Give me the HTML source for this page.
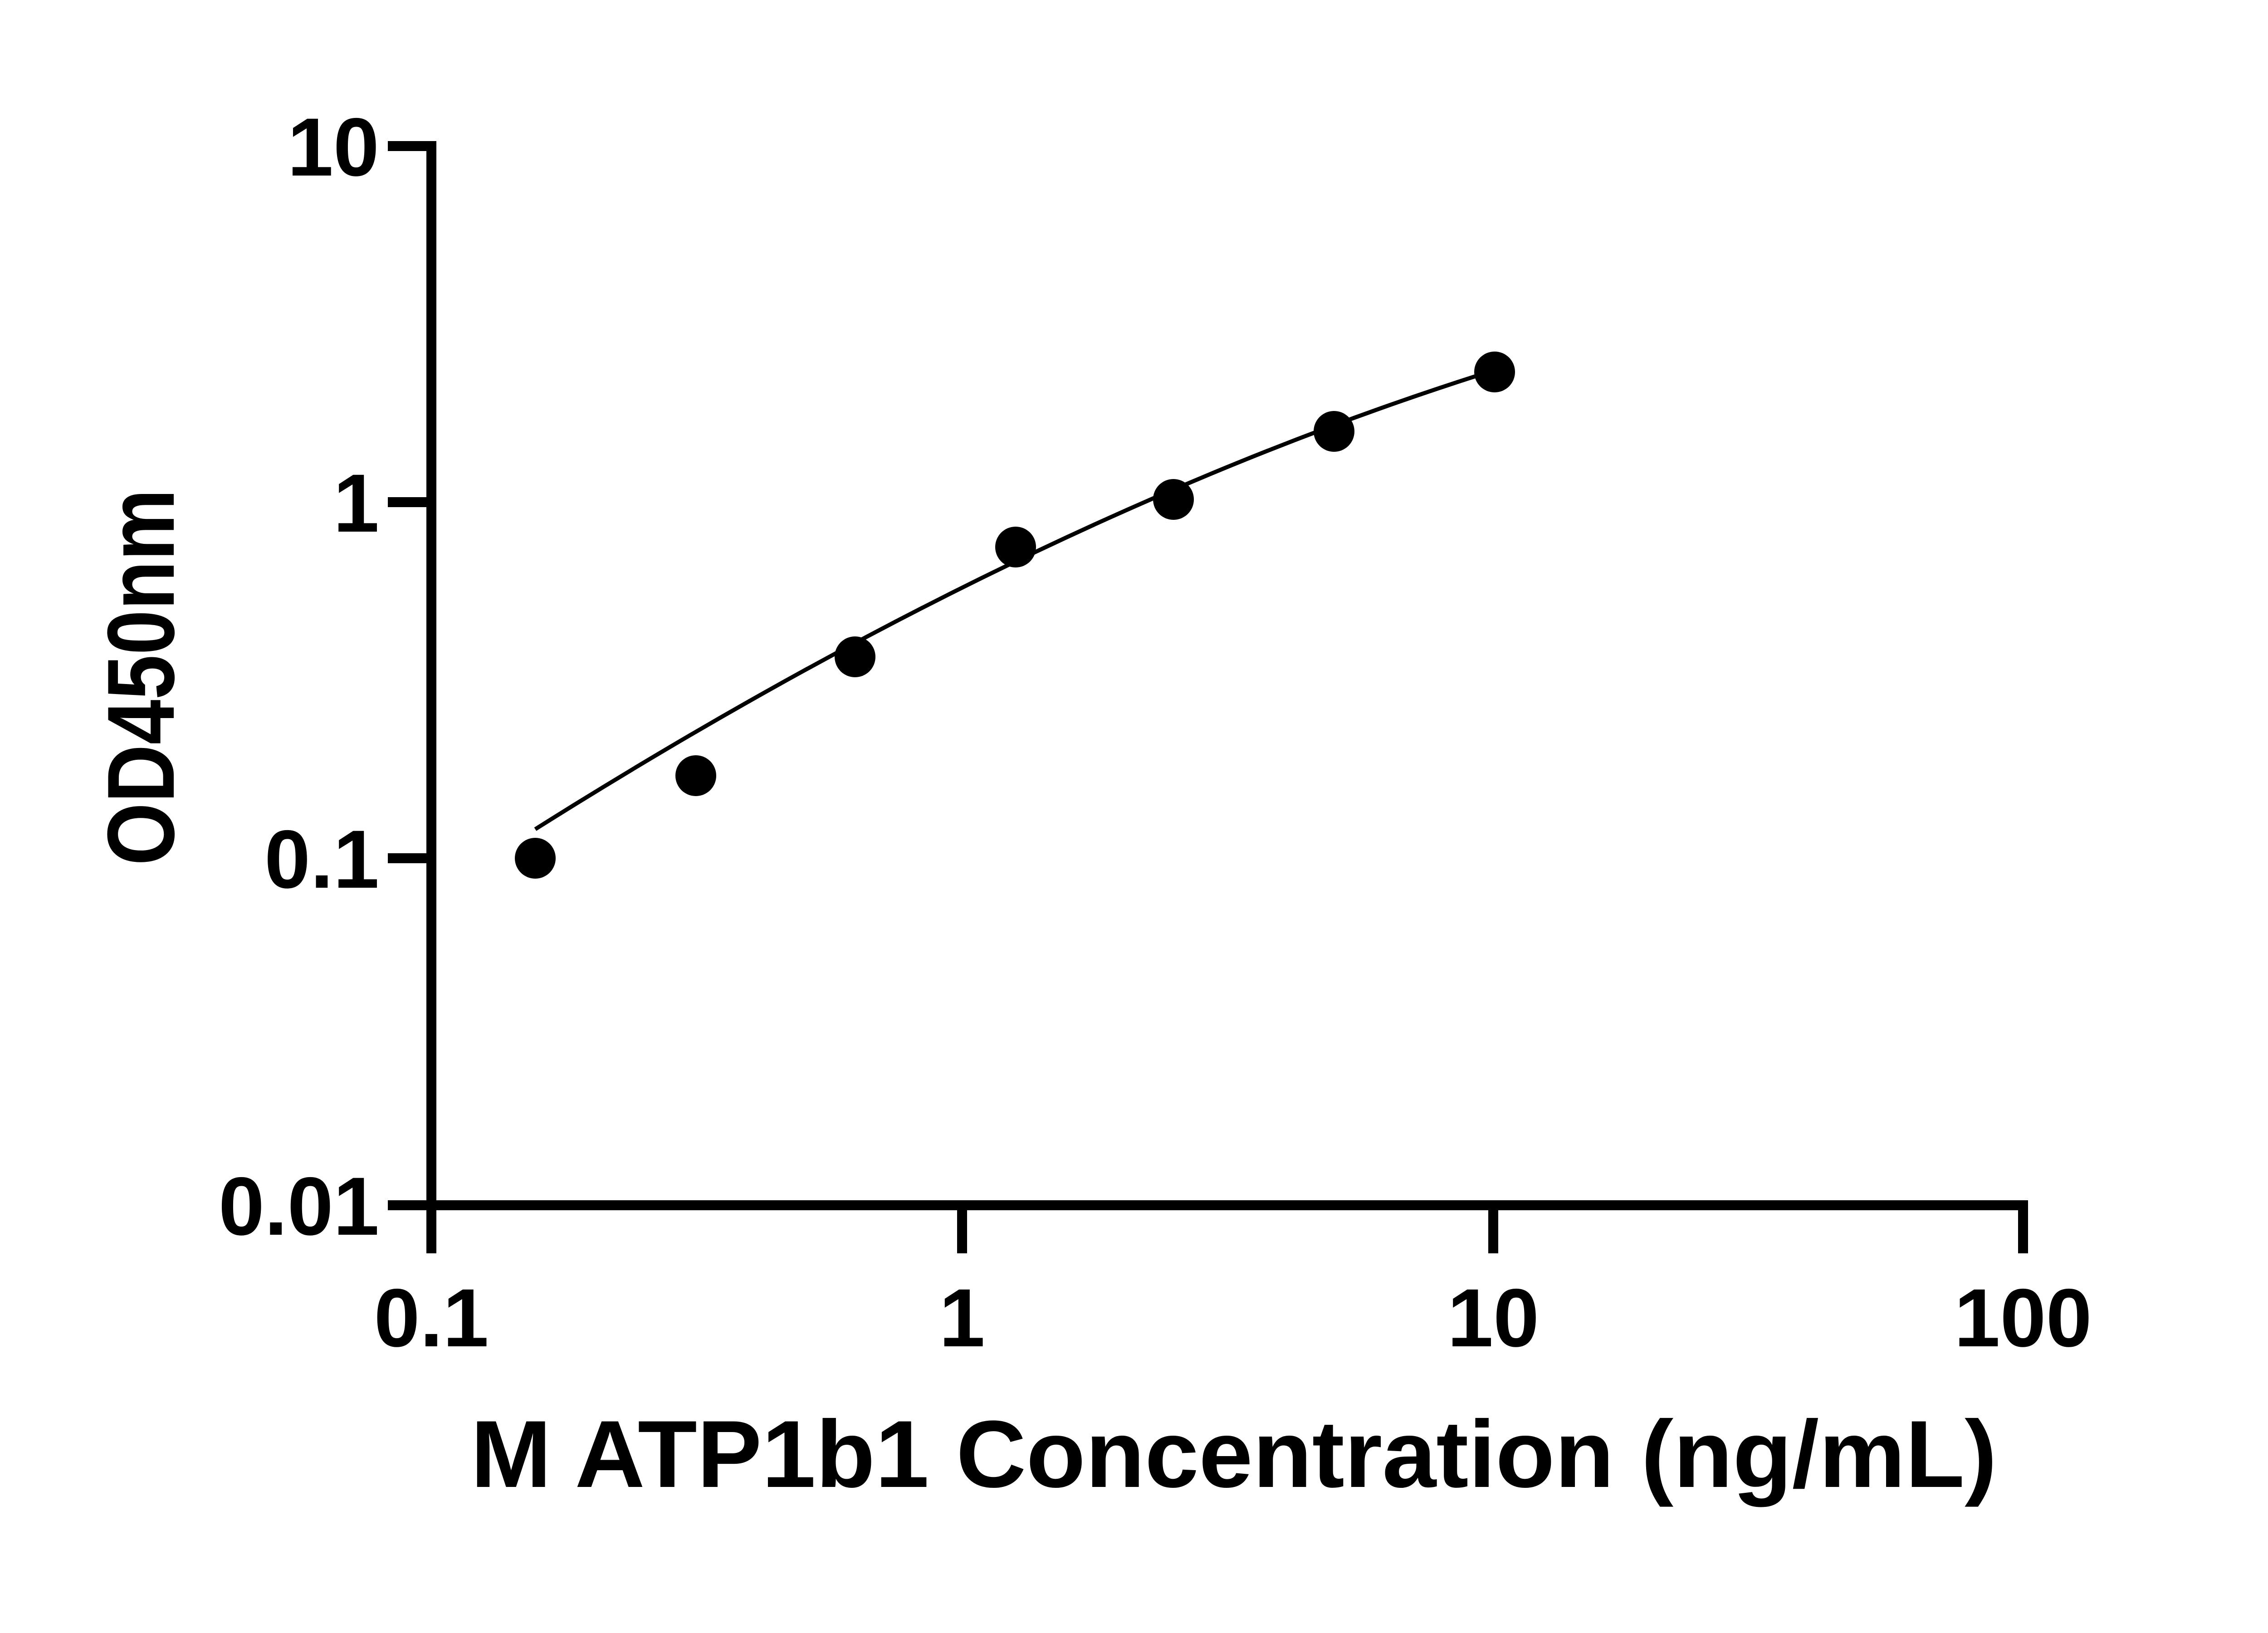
<!DOCTYPE html>
<html><head><meta charset="utf-8"><style>html,body{margin:0;padding:0;background:#fff}svg{display:block}</style></head>
<body>
<svg width="5130" height="3600" viewBox="0 0 5130 3600" xmlns="http://www.w3.org/2000/svg">
<rect width="5130" height="3600" fill="#fff"/>
<g stroke="#000" stroke-width="22" fill="none" stroke-linecap="butt">
<line x1="951" y1="311" x2="951" y2="2763"/>
<line x1="940" y1="2657" x2="4471" y2="2657"/>
<line x1="855" y1="322" x2="962" y2="322"/>
<line x1="855" y1="1107" x2="951" y2="1107"/>
<line x1="855" y1="1892" x2="951" y2="1892"/>
<line x1="855" y1="2657" x2="951" y2="2657"/>
<line x1="2121" y1="2657" x2="2121" y2="2763"/>
<line x1="3292" y1="2657" x2="3292" y2="2763"/>
<line x1="4460" y1="2646" x2="4460" y2="2763"/>
</g>
<g font-family="Liberation Sans, Arial, sans-serif" font-weight="bold" font-size="182" fill="#000">
<text x="836" y="387" text-anchor="end">10</text>
<text x="836" y="1172" text-anchor="end">1</text>
<text x="836" y="1957" text-anchor="end">0.1</text>
<text x="836" y="2722" text-anchor="end">0.01</text>
<text x="951" y="2968" text-anchor="middle">0.1</text>
<text x="2121" y="2968" text-anchor="middle">1</text>
<text x="3292" y="2968" text-anchor="middle">10</text>
<text x="4460" y="2968" text-anchor="middle">100</text>
</g>
<text x="2720" y="3278" text-anchor="middle" font-family="Liberation Sans, Arial, sans-serif" font-weight="bold" font-size="210" textLength="3365" lengthAdjust="spacingAndGlyphs">M ATP1b1 Concentration (ng/mL)</text>
<text transform="translate(383,1493) rotate(-90)" text-anchor="middle" font-family="Liberation Sans, Arial, sans-serif" font-weight="bold" font-size="210" textLength="830" lengthAdjust="spacingAndGlyphs">OD450nm</text>
<path d="M1180,1828 Q2261,1147 3254,829" stroke="#000" stroke-width="9" fill="none"/>
<g fill="#000">
<circle cx="1180" cy="1892" r="45"/>
<circle cx="1534" cy="1710" r="45"/>
<circle cx="1885" cy="1448" r="45"/>
<circle cx="2239" cy="1206" r="45"/>
<circle cx="2587" cy="1101" r="45"/>
<circle cx="2941" cy="951" r="45"/>
<circle cx="3295" cy="820" r="45"/>
</g>
</svg>
</body></html>
